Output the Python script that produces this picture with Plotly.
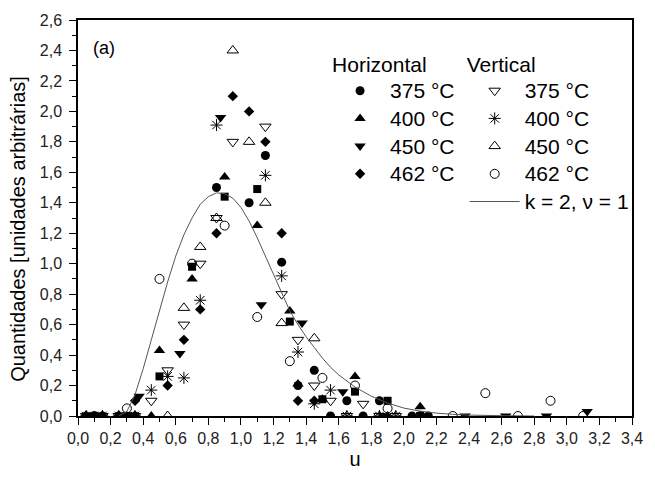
import plotly.graph_objects as go

# ---- data: particle quantities vs reduced size u ----
u_375h = [0.05, 0.15, 0.25, 0.35, 0.85, 1.05, 1.15, 1.25, 1.35, 1.45, 1.55, 1.65, 1.75, 1.85, 2.05, 2.15]
q_375h = [0, 0, 0, 0, 1.50, 1.40, 1.71, 1.01, 0.20, 0.30, 0, 0.10, 0, 0.10, 0, 0]

u_400h = [0.1, 0.3, 0.45, 0.5, 0.7, 0.9, 1.1, 1.3, 1.35, 1.5, 1.7, 1.9, 2.1]
q_400h = [0, 0, 0, 0.43, 0.90, 1.57, 1.25, 0.69, 0.21, 0.11, 0.26, 0, 0.06]

u_450h = [0.125, 0.375, 0.625, 0.875, 1.125, 1.375, 1.625, 1.875, 2.125, 2.375, 2.625, 2.875, 3.125]
q_450h = [0, 0.13, 0.41, 1.96, 0.73, 0.61, 0.16, 0, 0, 0, 0, 0, 0.03]

u_462h = [0.05, 0.15, 0.25, 0.35, 0.55, 0.65, 0.75, 0.85, 0.95, 1.05, 1.15, 1.25, 1.35, 1.45]
q_462h = [0, 0, 0, 0.10, 0.20, 0.50, 0.70, 1.20, 2.10, 2.00, 1.80, 1.20, 0.10, 0.10]

u_375v = [0.05, 0.15, 0.25, 0.35, 0.45, 0.55, 0.65, 0.75, 0.85, 0.95, 1.15, 1.25, 1.35, 1.45, 1.55, 1.65, 1.75, 1.85, 1.95]
q_375v = [0, 0, 0, 0, 0.10, 0.30, 0.60, 1.00, 1.30, 1.80, 1.90, 0.80, 0.50, 0.20, 0.10, 0, 0.08, 0, 0]

u_400v = [0.05, 0.15, 0.25, 0.35, 0.45, 0.55, 0.65, 0.75, 0.85, 1.15, 1.25, 1.35, 1.45, 1.55, 1.65, 1.85, 1.95]
q_400v = [0, 0, 0, 0, 0.17, 0.26, 0.25, 0.76, 1.91, 1.58, 0.92, 0.42, 0.08, 0.17, 0, 0, 0]

u_450v = [0.05, 0.15, 0.25, 0.35, 0.55, 0.65, 0.75, 0.85, 0.95, 1.05, 1.15, 1.25, 1.45, 1.65, 1.85, 1.95]
q_450v = [0, 0, 0, 0, 0, 0.71, 1.11, 1.30, 2.40, 1.80, 1.40, 0.61, 0.51, 0, 0, 0]

u_462v = [0.1, 0.3, 0.5, 0.7, 0.9, 1.1, 1.3, 1.5, 1.7, 1.9, 2.1, 2.3, 2.5, 2.7, 2.9, 3.1]
q_462v = [0, 0.05, 0.90, 1.00, 1.25, 0.65, 0.36, 0.25, 0.20, 0.05, 0, 0, 0.15, 0, 0.10, 0]

# extra series plotted with filled squares (no legend entry)
u_sq = [0.1, 0.3, 0.5, 0.7, 0.9, 1.1, 1.3, 1.5, 1.7, 1.9, 2.1]
q_sq = [0, 0, 0.26, 0.98, 1.44, 1.49, 0.62, 0.11, 0.16, 0.10, 0]

# model curve k = 2, nu = 1
u_fit = [0.25, 0.3, 0.35, 0.4, 0.45, 0.5, 0.55, 0.6, 0.65, 0.7, 0.75, 0.8, 0.85, 0.9, 0.95,
         1.0, 1.05, 1.1, 1.15, 1.2, 1.25, 1.3, 1.35, 1.4, 1.45, 1.5, 1.55, 1.6, 1.7, 1.8,
         1.9, 2.0, 2.1, 2.2, 2.3, 2.4, 2.6, 2.8]
q_fit = [0.0, 0.03, 0.14, 0.31, 0.50, 0.69, 0.88, 1.05, 1.19, 1.30, 1.39, 1.44, 1.465, 1.46, 1.43,
         1.37, 1.28, 1.17, 1.05, 0.92, 0.80, 0.69, 0.60, 0.52, 0.45, 0.38, 0.32, 0.27, 0.19, 0.13,
         0.085, 0.052, 0.032, 0.019, 0.011, 0.006, 0.002, 0.0]

temps = ["375 °C", "400 °C", "450 °C", "462 °C"]
fit_label = "k = 2, ν = 1"

FONT = "Liberation Sans, Arial, sans-serif"
INK = "black"
LEG_SIZE = 21


def big(txt):
    return f'<span style="font-size:{LEG_SIZE}px">{txt}</span>'


fig = go.Figure()

# filled-square series first (below the others)
fig.add_trace(go.Scatter(x=u_sq, y=q_sq, mode="markers", showlegend=False,
                         marker=dict(symbol="square", size=8, color=INK)))

horizontal = [
    (u_375h, q_375h, "circle", 9),
    (u_400h, q_400h, "triangle-up", 10),
    (u_450h, q_450h, "triangle-down", 10),
    (u_462h, q_462h, "diamond", 8),
]
for (ux, qy, sym, sz), name in zip(horizontal, temps):
    fig.add_trace(go.Scatter(x=ux, y=qy, mode="markers", name=big(name), legend="legend",
                             marker=dict(symbol=sym, size=sz, color=INK, line=dict(width=0))))

vertical = [
    (u_375v, q_375v, "triangle-down-open", 10),
    (u_400v, q_400v, "asterisk-open", 10),
    (u_450v, q_450v, "triangle-up-open", 10),
    (u_462v, q_462v, "circle-open", 9),
]
for (ux, qy, sym, sz), name in zip(vertical, temps):
    fig.add_trace(go.Scatter(x=ux, y=qy, mode="markers", name=big(name), legend="legend2",
                             marker=dict(symbol=sym, size=sz, color=INK,
                                         line=dict(width=1, color=INK))))

fig.add_trace(go.Scatter(x=u_fit, y=q_fit, mode="lines", name=big(fit_label), legend="legend2",
                         line=dict(color="#555555", width=1)))

tick_font = dict(family=FONT, size=16, color="#222222")
axis_common = dict(showgrid=False, zeroline=False, showline=True, linecolor=INK, linewidth=1.5,
                   mirror=True, ticks="outside", ticklen=7, tickwidth=1.2, tickcolor=INK,
                   tickformat=".1f", tickfont=tick_font)
minor_out = dict(dtick=0.1, ticklen=4, ticks="outside", tickcolor=INK, tickwidth=1.2)
minor_in = dict(dtick=0.1, ticklen=4, ticks="inside", tickcolor=INK, tickwidth=1.2)

legend_common = dict(yanchor="top", xanchor="left", bgcolor="rgba(0,0,0,0)", itemwidth=50,
                     font=dict(family=FONT, size=19, color=INK), tracegroupgap=0,
                     itemclick=False)

fig.update_layout(
    width=655, height=479,
    margin=dict(l=78, r=12, t=19, b=58),
    paper_bgcolor="white", plot_bgcolor="white",
    separators=", ",
    font=dict(family=FONT, color=INK),
    xaxis=dict(range=[0, 3.4], dtick=0.2, tick0=0, minor=minor_out,
               title=dict(text="u", font=dict(family=FONT, size=20), standoff=6),
               **axis_common),
    yaxis=dict(range=[0, 2.6], dtick=0.2, tick0=0, minor=minor_out,
               ticklabelstandoff=4, **axis_common),
    # inward ticks on the top and right frame
    xaxis2=dict(range=[0, 3.4], overlaying="x", side="top", anchor="y", dtick=0.2, tick0=0,
                showgrid=False, zeroline=False, showline=False, showticklabels=False,
                ticks="inside", ticklen=7, tickwidth=1.2, tickcolor=INK, minor=minor_in),
    yaxis2=dict(range=[0, 2.6], overlaying="y", side="right", anchor="x", dtick=0.2, tick0=0,
                showgrid=False, zeroline=False, showline=False, showticklabels=False,
                ticks="inside", ticklen=7, tickwidth=1.2, tickcolor=INK, minor=minor_in),
    legend=dict(x=0.455, y=0.938,
                title=dict(text="Horizontal", font=dict(family=FONT, size=LEG_SIZE, color=INK)),
                **legend_common),
    legend2=dict(x=0.698, y=0.938,
                 title=dict(text="Vertical", font=dict(family=FONT, size=LEG_SIZE, color=INK)),
                 **legend_common),
    annotations=[
        dict(text="(a)", xref="paper", yref="paper", x=0.023, y=0.93,
             xanchor="left", yanchor="middle", showarrow=False,
             font=dict(family=FONT, size=18, color=INK)),
        dict(text="Quantidades [unidades arbitrárias]", xref="paper", yref="paper",
             x=-0.108, y=0.473, textangle=-90, xanchor="center", yanchor="middle",
             showarrow=False, font=dict(family=FONT, size=20, color=INK)),
    ],
)

fig.write_html("out.html")
